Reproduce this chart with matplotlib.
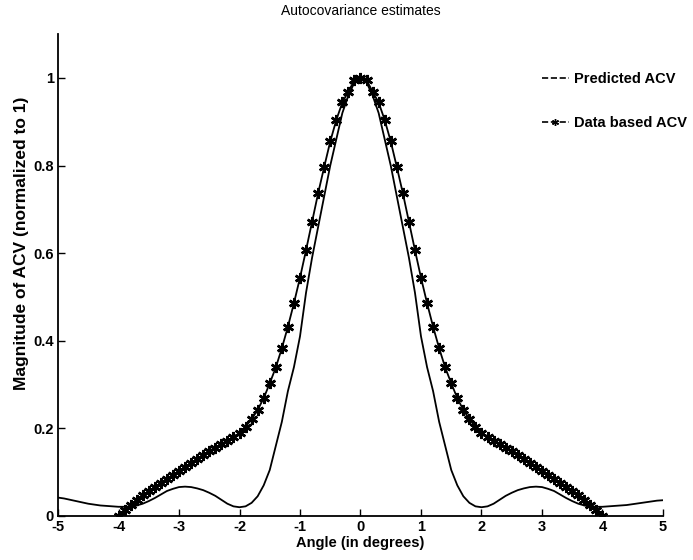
import numpy as np
import matplotlib.pyplot as plt
from matplotlib.lines import Line2D

plt.rcParams['font.family'] = ['Liberation Sans', 'DejaVu Sans']

# Predicted ACV, sampled every 0.1 degree from -5 to 5
angle_pred = np.round(np.arange(-50, 51) * 0.1, 1)
acv_pred = [
    0.042, 0.040, 0.037, 0.034, 0.031, 0.028, 0.026, 0.024, 0.023, 0.022,
    0.021, 0.021, 0.022, 0.024, 0.028, 0.034, 0.041, 0.049, 0.057, 0.062,
    0.066, 0.067, 0.066, 0.063, 0.059, 0.053, 0.046, 0.037, 0.028, 0.022,
    0.020, 0.022, 0.030, 0.045, 0.070, 0.105, 0.160, 0.215, 0.285, 0.340,
    0.410, 0.510, 0.590, 0.660, 0.730, 0.800, 0.860, 0.920, 0.960, 0.990,
    1.000,
    0.990, 0.960, 0.920, 0.860, 0.800, 0.730, 0.660, 0.590, 0.510, 0.410,
    0.340, 0.285, 0.215, 0.160, 0.105, 0.070, 0.045, 0.030, 0.022, 0.020,
    0.022, 0.028, 0.037, 0.046, 0.053, 0.059, 0.063, 0.066, 0.067, 0.066,
    0.062, 0.057, 0.049, 0.041, 0.034, 0.028, 0.024, 0.022, 0.021, 0.021,
    0.022, 0.023, 0.024, 0.025, 0.027, 0.029, 0.031, 0.033, 0.035, 0.036,
]

# Data based ACV, every 0.1 degree from -4 to 4
angle_data = np.round(np.arange(-40, 41) * 0.1, 1)
acv_data = [
    0.000, 0.013, 0.025, 0.036, 0.047, 0.057, 0.066, 0.076, 0.085, 0.094,
    0.103, 0.112, 0.121, 0.130, 0.139, 0.148, 0.156, 0.164, 0.172, 0.181,
    0.189, 0.204, 0.221, 0.242, 0.269, 0.303, 0.339, 0.383, 0.432, 0.486,
    0.544, 0.607, 0.672, 0.737, 0.797, 0.855, 0.904, 0.944, 0.969, 0.995,
    1.000,
    0.995, 0.969, 0.944, 0.904, 0.855, 0.797, 0.737, 0.672, 0.607, 0.544,
    0.486, 0.432, 0.383, 0.339, 0.303, 0.269, 0.242, 0.221, 0.204, 0.189,
    0.181, 0.172, 0.164, 0.156, 0.148, 0.139, 0.130, 0.121, 0.112, 0.103,
    0.094, 0.085, 0.076, 0.066, 0.057, 0.047, 0.036, 0.025, 0.013, 0.000,
]

x_ticks = [-5, -4, -3, -2, -1, 0, 1, 2, 3, 4, 5]
x_labels = ['-5', '-4', '-3', '-2', '-1', '0', '1', '2', '3', '4', '5']
y_ticks = [0, 0.2, 0.4, 0.6, 0.8, 1.0]
y_labels = ['0', '0.2', '0.4', '0.6', '0.8', '1']

fig = plt.figure(figsize=(6.93, 5.6), dpi=100)
ax = fig.add_axes([0.0837, 0.0786, 0.873, 0.8604])

# asterisk marker like the old matlab '*'
star = (6, 2, 0)

ax.plot(angle_pred, acv_pred, color='black', lw=1.3)
ax.plot(angle_data, acv_data, color='black', lw=1.3, marker=star,
        markersize=8, markeredgewidth=1.8)

ax.set_xlim(-5, 5)
ax.set_ylim(0, 1.1)
ax.set_xticks(x_ticks)
ax.set_xticklabels(x_labels)
ax.set_yticks(y_ticks)
ax.set_yticklabels(y_labels)
ax.tick_params(direction='in', length=5, width=1.0, labelsize=10.5, pad=3)
for lbl in ax.get_xticklabels() + ax.get_yticklabels():
    lbl.set_fontweight('bold')

ax.spines['top'].set_visible(False)
ax.spines['right'].set_visible(False)
ax.spines['left'].set_linewidth(1.3)
ax.spines['bottom'].set_linewidth(1.3)

ax.set_title('Autocovariance estimates', fontsize=10, pad=14)
ax.set_xlabel('Angle (in degrees)', fontsize=10.5, fontweight='bold', labelpad=1)
ax.set_ylabel('Magnitude of ACV (normalized to 1)', fontsize=12.5,
              fontweight='bold')
ax.yaxis.set_label_coords(-0.048, 0.566)

handles = [
    Line2D([], [], color='black', lw=1.2, linestyle='--'),
    Line2D([], [], color='black', lw=1.2, linestyle='--', marker=star,
           markersize=5, markeredgewidth=1.0),
]
fig.legend(handles, ['Predicted ACV', 'Data based ACV'],
           loc='upper left', bbox_to_anchor=(542 / 693, 1 - 72 / 560),
           frameon=False, borderpad=0, borderaxespad=0,
           handlelength=1.85, handletextpad=0.35, labelspacing=2.05,
           numpoints=1, prop={'size': 10.5, 'weight': 'bold'})

plt.savefig('out.png', dpi=100)
